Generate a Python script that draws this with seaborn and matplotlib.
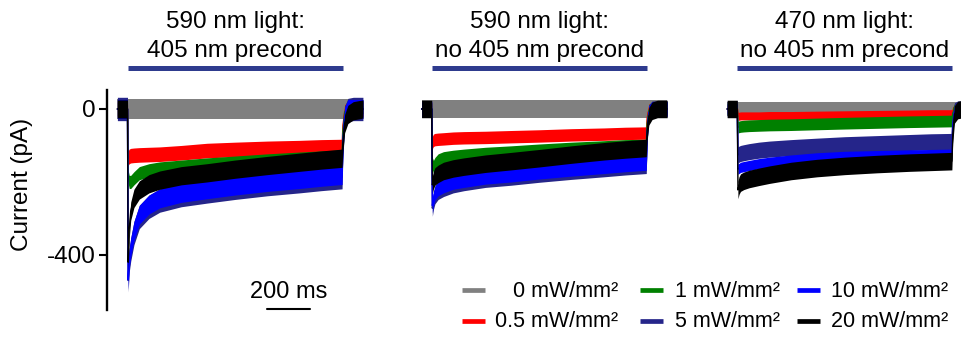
import matplotlib
matplotlib.use("Agg")
import matplotlib.pyplot as plt
from matplotlib.lines import Line2D
import pandas as pd
import seaborn as sns

# ---------------------------------------------------------------- data
# sample times of the recorded sweeps (ms); light is on from 0 to 1000 ms
TIME_MS = [-47, 0, 3, 8, 15, 30, 55, 100, 150, 250, 370, 500, 650, 800,
           900, 998, 1002, 1010, 1025, 1050, 1095]

POWER_LABELS = ["0 mW/mm²", "0.5 mW/mm²", "1 mW/mm²",
                "5 mW/mm²", "10 mW/mm²", "20 mW/mm²"]
POWER_COLORS = ["#808080", "#ff0000", "#008000", "#25258a", "#0000ff", "#000000"]

PANEL_TITLES = [("590 nm light:", "405 nm precond"),
                ("590 nm light:", "no 405 nm precond"),
                ("470 nm light:", "no 405 nm precond")]

# mean photocurrent (pA) for each light power, panel 1: 590 nm after 405 nm precond
p1_0mw = [0, 0, 0, 0, 0, 0, 0, 0, 0, 0, 0, 0, 0, 0, 0, 0, 0, 0, 0, 0, 0]
p1_05mw = [0, 0, -135, -130, -128, -127, -126, -125, -124, -120, -114, -111,
           -108, -106, -104, -103, -45, -8, 0, 0, 0]
p1_1mw = [0, 0, -185, -200, -200, -190, -176, -168, -163, -158, -152, -147,
          -141, -136, -133, -130, -60, -10, 5, 5, 5]
p1_5mw = [0, 0, -470, -415, -385, -340, -296, -268, -251, -236, -226, -216,
          -206, -198, -192, -187, -95, -25, -3, 0, 0]
p1_10mw = [0, 0, -468, -410, -380, -335, -290, -262, -245, -230, -220, -210,
           -200, -192, -186, -181, -90, -20, 0, 0, 0]
p1_20mw = [0, 0, -420, -330, -280, -245, -222, -205, -195, -183, -175, -165,
           -155, -146, -140, -135, -90, -40, -15, -5, 0]
p1_noise = [28, 20, 18, 32, 26, 25]

# panel 2: 590 nm, no 405 nm precond
p2_0mw = [0, 0, 0, 0, 0, 0, 0, 0, 0, 0, 0, 0, 0, 0, 0, 0, 0, 0, 0, 0, 0]
p2_05mw = [0, 0, -92, -86, -84, -83, -82, -80, -79, -78, -76, -74, -71, -69,
           -67, -66, -25, -3, 0, 0, 0]
p2_1mw = [0, 0, -150, -158, -150, -140, -134, -130, -127, -122, -118, -113,
          -108, -104, -101, -100, -40, -5, 3, 3, 3]
p2_5mw = [0, 0, -272, -253, -238, -226, -218, -208, -202, -193, -187, -179,
          -171, -164, -159, -155, -70, -12, 0, 0, 0]
p2_10mw = [0, 0, -265, -245, -230, -218, -210, -200, -195, -186, -180, -172,
           -164, -157, -152, -148, -65, -10, 0, 0, 0]
p2_20mw = [0, 0, -208, -195, -185, -178, -170, -163, -158, -150, -143, -135,
           -125, -116, -111, -107, -60, -20, -5, 0, 0]
p2_noise = [25, 17, 17, 22, 20, 24]

# panel 3: 470 nm, no 405 nm precond
p3_0mw = [0, 0, 0, 0, 0, 0, 0, 0, 0, 0, 0, 0, 0, 0, 0, 0, 0, 0, 0, 0, 0]
p3_05mw = [0, 0, -20, -20, -19, -19, -19, -19, -18, -18, -17, -16, -15, -14,
           -13, -13, -5, 0, 0, 0, 0]
p3_1mw = [0, 0, -50, -49, -48, -47, -46, -45, -44, -43, -41, -39, -37, -35,
          -34, -33, -12, -2, 0, 0, 0]
p3_5mw = [0, 0, -126, -124, -122, -120, -117, -113, -110, -106, -102, -98,
          -95, -92, -90, -89, -35, -5, 0, 0, 0]
p3_10mw = [0, 0, -165, -163, -160, -158, -155, -150, -146, -140, -134, -130,
           -128, -126, -125, -124, -50, -8, 0, 0, 0]
p3_20mw = [0, 0, -222, -210, -202, -197, -192, -186, -180, -170, -162, -156,
           -151, -147, -145, -143, -70, -15, -3, 0, 0]
p3_noise = [18, 11, 16, 22, 14, 24]

PANELS = [
    [p1_0mw, p1_05mw, p1_1mw, p1_5mw, p1_10mw, p1_20mw],
    [p2_0mw, p2_05mw, p2_1mw, p2_5mw, p2_10mw, p2_20mw],
    [p3_0mw, p3_05mw, p3_1mw, p3_5mw, p3_10mw, p3_20mw],
]
NOISE = [p1_noise, p2_noise, p3_noise]

Y_TICKS = [0, -400]
Y_TICK_LABELS = ["0", "-400"]
LIGHT_ON_MS = (0, 1000)
SCALE_BAR_MS = (650, 850)

# ---------------------------------------------------------------- style
sns.set_theme(style="ticks")
plt.rcParams["font.family"] = ["Liberation Sans", "DejaVu Sans"]
plt.rcParams["axes.unicode_minus"] = False
for key in ("text.color", "axes.labelcolor", "xtick.color", "ytick.color",
            "axes.edgecolor"):
    plt.rcParams[key] = "black"

W, H = 961, 337
fig = plt.figure(figsize=(W / 100, H / 100), dpi=100)

PX_PER_MS = 0.215
X_LIM = (-95, 1100)
Y_LIM = (-551, 52)
TOP_PX, BOTTOM_PX = 90, 310
ONSET_PX = [127.5, 431.7, 737.3]
BAR_COLOR = "#2e3b8e"
FS = 17.5

ax_w = (X_LIM[1] - X_LIM[0]) * PX_PER_MS
axes = []
for k, onset in enumerate(ONSET_PX):
    left = onset + X_LIM[0] * PX_PER_MS
    ax = fig.add_axes([left / W, 1 - BOTTOM_PX / H, ax_w / W,
                       (BOTTOM_PX - TOP_PX) / H])
    ax.set_xlim(*X_LIM)
    ax.set_ylim(*Y_LIM)
    ax.patch.set_alpha(0)

    for i, (vals, hw) in enumerate(zip(PANELS[k], NOISE[k])):
        df = pd.DataFrame({"t": TIME_MS, "I": vals})
        z = 2 + i
        ax.fill_between(df["t"], df["I"] - hw, df["I"] + hw,
                        color=POWER_COLORS[i], lw=0, zorder=z)
        sns.lineplot(data=df, x="t", y="I", color=POWER_COLORS[i], lw=1.0,
                     ax=ax, zorder=z + 0.5, errorbar=None)

    # light pulse bar and panel title
    ax.plot(LIGHT_ON_MS, [111, 111], color=BAR_COLOR, lw=3.6,
            solid_capstyle="butt", clip_on=False)
    ax.text(500, 222, PANEL_TITLES[k][0], ha="center", va="baseline",
            fontsize=FS, color="black", clip_on=False)
    ax.text(500, 142, PANEL_TITLES[k][1], ha="center", va="baseline",
            fontsize=FS, color="black", clip_on=False)
    ax.set_xlabel("")
    ax.set_ylabel("")
    axes.append(ax)

# left panel keeps a y axis; the others show traces only
ax0 = axes[0]
sns.despine(ax=ax0, bottom=True)
ax0.set_xticks([])
ax0.set_yticks(Y_TICKS)
ax0.set_yticklabels(Y_TICK_LABELS, fontsize=FS, color="black")
ax0.spines["left"].set_linewidth(1.7)
ax0.spines["left"].set_color("black")
ax0.tick_params(axis="y", direction="out", length=6, width=1.5, pad=2.5,
                colors="black")
for ax in axes[1:]:
    ax.axis("off")

fig.text(22 / W, 1 - 184 / H, "Current (pA)", rotation=90, ha="center",
         va="center", fontsize=FS, color="black")

# time scale bar
ax0.plot(SCALE_BAR_MS, [-548, -548], color="black", lw=1.5, clip_on=False)
ax0.text(sum(SCALE_BAR_MS) / 2, -518, "200 ms", ha="center", va="baseline",
         fontsize=17, color="black", clip_on=False)

# legend: two rows, three columns, labels right-aligned before each column edge
handle_x = [(461.7, 485.0), (640.0, 663.3), (796.7, 820.0)]
text_right = [618.3, 780.0, 948.3]
row_mid = [290.0, 321.0]
row_base = [296.7, 326.7]
for i, (lab, col) in enumerate(zip(POWER_LABELS, POWER_COLORS)):
    c, r = divmod(i, 2)
    x0, x1 = handle_x[c]
    fig.add_artist(Line2D([x0 / W, x1 / W], [1 - row_mid[r] / H] * 2,
                          transform=fig.transFigure, color=col, lw=3.4,
                          solid_capstyle="butt"))
    fig.text(text_right[c] / W, 1 - row_base[r] / H, lab, ha="right",
             va="baseline", fontsize=15.5, color="black")

fig.savefig("out.png", dpi=100)
